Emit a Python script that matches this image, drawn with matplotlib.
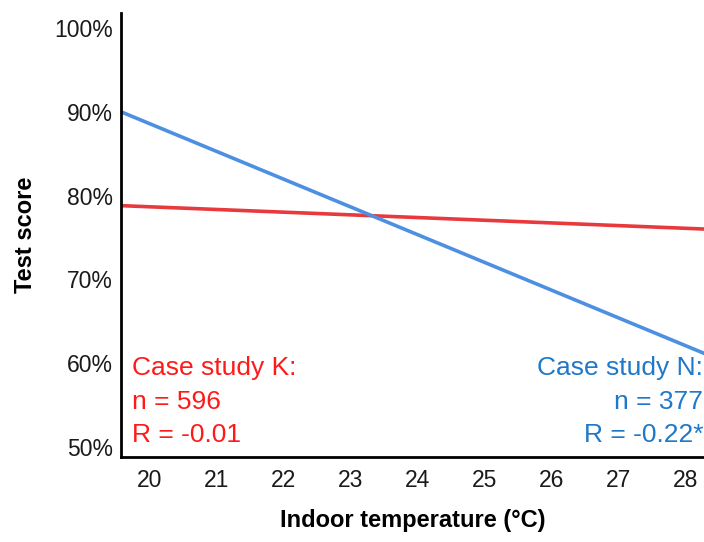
import numpy as np
import matplotlib.pyplot as plt

plt.rcParams['font.family'] = ['Liberation Sans', 'DejaVu Sans']

# fitted regression lines, read at the ends of the visible axis
temp_ends = [19.57, 28.3]
score_k = [78.8, 76.0]   # case study K (red)
score_n = [90.0, 61.1]   # case study N (blue)

x_ticks = [20, 21, 22, 23, 24, 25, 26, 27, 28]
y_ticks = [50, 60, 70, 80, 90, 100]
y_labels = [f"{v}%" for v in y_ticks]

label_k = ["Case study K:", "n = 596", "R = -0.01"]
label_n = ["Case study N:", "n = 377", "R = -0.22*"]

red_line = "#e8393d"
blue_line = "#4d90e2"
red_text = "#ff1a1a"
blue_text = "#1f78c8"

fig = plt.figure(figsize=(7.04, 5.42), dpi=100)
ax = fig.add_axes([0.172, 0.157, 0.83, 0.819])

ax.plot(temp_ends, score_k, color=red_line, lw=2.6, solid_capstyle="butt")
ax.plot(temp_ends, score_n, color=blue_line, lw=2.6, solid_capstyle="butt")

ax.set_xlim(temp_ends[0], temp_ends[1])
ax.set_ylim(48.8, 101.8)

ax.set_xticks(x_ticks)
ax.set_yticks(y_ticks)
ax.set_yticklabels(y_labels)
ax.tick_params(axis="both", length=0, labelsize=16.5, colors="#1a1a1a")
ax.tick_params(axis="x", pad=9)
ax.tick_params(axis="y", pad=6)

for side in ["top", "right"]:
    ax.spines[side].set_visible(False)
for side in ["left", "bottom"]:
    ax.spines[side].set_linewidth(2)
    ax.spines[side].set_color("black")

ax.set_xlabel("Indoor temperature (°C)", fontsize=17, fontweight="bold", labelpad=12)
ax.set_ylabel("Test score", fontsize=17, fontweight="bold", labelpad=12)

# annotations, one line each
rows = [0.321, 0.258, 0.197]
for txt, yy in zip(label_k, rows):
    fig.text(0.188, yy, txt, color=red_text, fontsize=19, va="center", ha="left")
for txt, yy in zip(label_n, rows):
    fig.text(0.999, yy, txt, color=blue_text, fontsize=19, va="center", ha="right")

fig.savefig("out.png", dpi=100)
